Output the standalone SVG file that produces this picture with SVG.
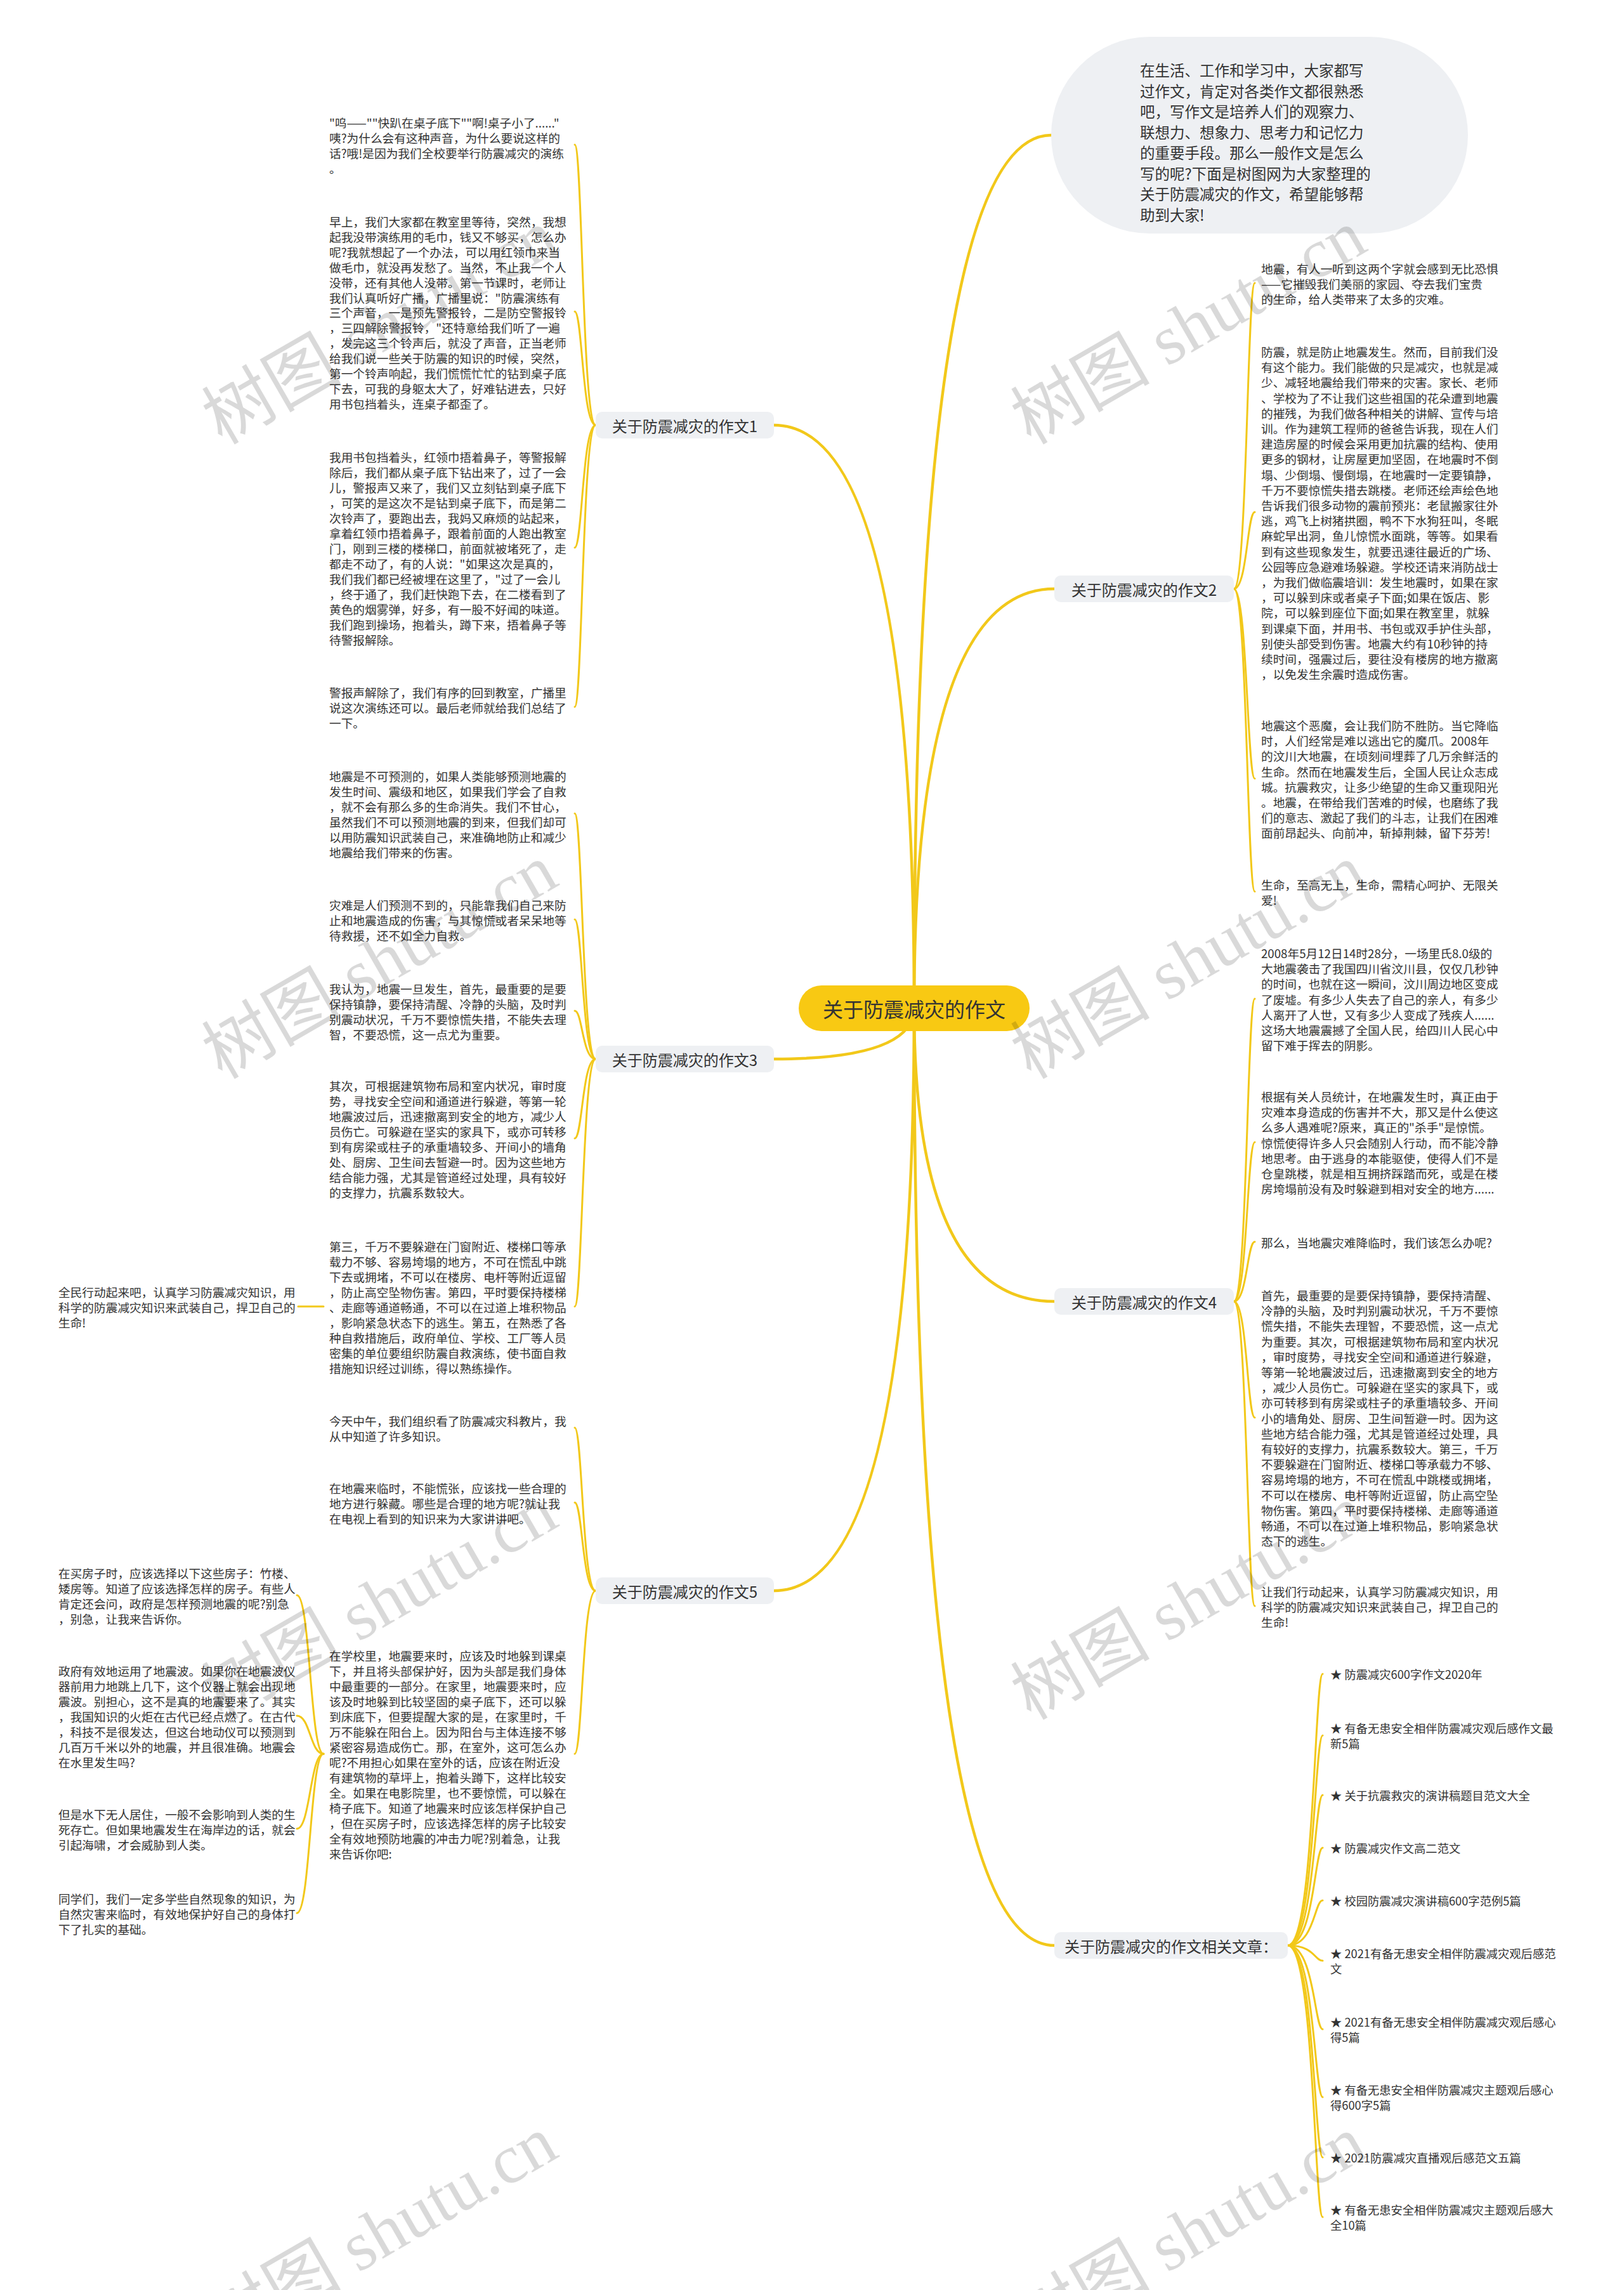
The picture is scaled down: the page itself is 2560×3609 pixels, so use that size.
<svg xmlns="http://www.w3.org/2000/svg" width="2560" height="3609" viewBox="0 0 2560 3609">
<style>
.t{font-family:"Noto Sans CJK SC","Noto Sans",sans-serif;font-size:18.7px;fill:#333;dominant-baseline:central}
.li{font-family:"Noto Sans CJK SC","Noto Sans",sans-serif;font-size:18.3px;fill:#333;dominant-baseline:central}
.bt{font-family:"Noto Sans CJK SC","Noto Sans",sans-serif;font-size:23.5px;fill:#333;dominant-baseline:central}
.nt{font-family:"Noto Sans CJK SC","Noto Sans",sans-serif;font-size:24px;fill:#333;dominant-baseline:central;text-anchor:middle}
.ct{font-family:"Noto Sans CJK SC","Noto Sans",sans-serif;font-size:32px;fill:#333;dominant-baseline:central;text-anchor:middle}
.box{fill:#eef0f3}
.main{fill:none;stroke:#f2c81a;stroke-width:4.5;stroke-linecap:round}
.sub{fill:none;stroke:#f2c81a;stroke-width:3;stroke-linecap:round}
.wm{font-family:"Liberation Serif","Noto Sans CJK SC",serif;font-size:110px;fill:#000;fill-opacity:0.15}
</style>
<rect width="2560" height="3609" fill="#ffffff"/>
<g id="connectors">
<path class="main" d="M1441,1588 Q1441,213 1657,213"/>
<path class="main" d="M1441,1588 Q1441,928 1662,928"/>
<path class="main" d="M1441,1588 Q1441,2051 1662,2051"/>
<path class="main" d="M1441,1588 Q1441,3066 1662,3066"/>
<path class="main" d="M1441,1588 Q1441,670 1220,670"/>
<path class="main" d="M1441,1588 Q1441,1669 1220,1669"/>
<path class="main" d="M1441,1588 Q1441,2507 1220,2507"/>
<path class="sub" d="M939,670 C918,670 918,228 906,228"/>
<path class="sub" d="M939,670 C918,670 918,491 906,491"/>
<path class="sub" d="M939,670 C918,670 918,863 906,863"/>
<path class="sub" d="M939,670 C918,670 918,1114 906,1114"/>
<path class="sub" d="M939,1669 C918,1669 918,1282 906,1282"/>
<path class="sub" d="M939,1669 C918,1669 918,1449 906,1449"/>
<path class="sub" d="M939,1669 C918,1669 918,1593 906,1593"/>
<path class="sub" d="M939,1669 C918,1669 918,1794 906,1794"/>
<path class="sub" d="M939,1669 C918,1669 918,2059 906,2059"/>
<path class="sub" d="M939,2507 C918,2507 918,2250 906,2250"/>
<path class="sub" d="M939,2507 C918,2507 918,2368 906,2368"/>
<path class="sub" d="M939,2507 C918,2507 918,2764 906,2764"/>
<path class="sub" d="M510,2059 L470,2059"/>
<path class="sub" d="M510,2764 C489,2764 489,2514 468,2514"/>
<path class="sub" d="M510,2764 C489,2764 489,2704 468,2704"/>
<path class="sub" d="M510,2764 C489,2764 489,2882 468,2882"/>
<path class="sub" d="M510,2764 C489,2764 489,3015 468,3015"/>
<path class="sub" d="M1945,928 C1966,928 1966,446 1978,446"/>
<path class="sub" d="M1945,928 C1966,928 1966,807 1978,807"/>
<path class="sub" d="M1945,928 C1966,928 1966,1227 1978,1227"/>
<path class="sub" d="M1945,928 C1966,928 1966,1405 1978,1405"/>
<path class="sub" d="M1945,2051 C1966,2051 1966,1574 1978,1574"/>
<path class="sub" d="M1945,2051 C1966,2051 1966,1800 1978,1800"/>
<path class="sub" d="M1945,2051 C1966,2051 1966,1957 1978,1957"/>
<path class="sub" d="M1945,2051 C1966,2051 1966,2234 1978,2234"/>
<path class="sub" d="M1945,2051 C1966,2051 1966,2531 1978,2531"/>
<path class="sub" d="M2030,3066 C2072,3066 2072,2638 2085,2638"/>
<path class="sub" d="M2030,3066 C2072,3066 2072,2735 2085,2735"/>
<path class="sub" d="M2030,3066 C2072,3066 2072,2829 2085,2829"/>
<path class="sub" d="M2030,3066 C2072,3066 2072,2912 2085,2912"/>
<path class="sub" d="M2030,3066 C2072,3066 2072,2995 2085,2995"/>
<path class="sub" d="M2030,3066 C2072,3066 2072,3090 2085,3090"/>
<path class="sub" d="M2030,3066 C2072,3066 2072,3198 2085,3198"/>
<path class="sub" d="M2030,3066 C2072,3066 2072,3305 2085,3305"/>
<path class="sub" d="M2030,3066 C2072,3066 2072,3400 2085,3400"/>
<path class="sub" d="M2030,3066 C2072,3066 2072,3494 2085,3494"/>
</g>
<g id="center">
<rect x="1259" y="1553" width="364" height="72" rx="36" fill="#f8c913"/>
<text class="ct" x="1441" y="1589">关于防震减灾的作文</text>
</g>
<g id="intro">
<rect x="1657" y="58" width="657" height="310" rx="155" class="box"/>
<text class="bt" x="1797" y="110"><tspan x="1797" y="110">在生活、工作和学习中，大家都写</tspan><tspan x="1797" dy="32.5">过作文，肯定对各类作文都很熟悉</tspan><tspan x="1797" dy="32.5">吧，写作文是培养人们的观察力、</tspan><tspan x="1797" dy="32.5">联想力、想象力、思考力和记忆力</tspan><tspan x="1797" dy="32.5">的重要手段。那么一般作文是怎么</tspan><tspan x="1797" dy="32.5">写的呢?下面是树图网为大家整理的</tspan><tspan x="1797" dy="32.5">关于防震减灾的作文，希望能够帮</tspan><tspan x="1797" dy="32.5">助到大家!</tspan></text>
</g>
<g id="node1">
<rect x="939" y="649" width="281" height="42" rx="10" class="box"/>
<text class="nt" x="1079.5" y="670">关于防震减灾的作文1</text>
</g>
<g id="node3">
<rect x="939" y="1648" width="281" height="42" rx="10" class="box"/>
<text class="nt" x="1079.5" y="1669">关于防震减灾的作文3</text>
</g>
<g id="node5">
<rect x="939" y="2486" width="281" height="42" rx="10" class="box"/>
<text class="nt" x="1079.5" y="2507">关于防震减灾的作文5</text>
</g>
<g id="node2">
<rect x="1662" y="907" width="283" height="42" rx="10" class="box"/>
<text class="nt" x="1803.5" y="928">关于防震减灾的作文2</text>
</g>
<g id="node4">
<rect x="1662" y="2030" width="283" height="42" rx="10" class="box"/>
<text class="nt" x="1803.5" y="2051">关于防震减灾的作文4</text>
</g>
<g id="node6">
<rect x="1662" y="3045" width="368" height="42" rx="10" class="box"/>
<text class="nt" x="1846" y="3066">关于防震减灾的作文相关文章：</text>
</g>
<g id="b1a"><text class="t" x="519" y="192"><tspan x="519" y="192">"呜——""快趴在桌子底下""啊!桌子小了......"</tspan><tspan x="519" dy="24">咦?为什么会有这种声音，为什么要说这样的</tspan><tspan x="519" dy="24">话?哦!是因为我们全校要举行防震减灾的演练</tspan><tspan x="519" dy="24">。</tspan></text></g>
<g id="b1b"><text class="t" x="519" y="348"><tspan x="519" y="348">早上，我们大家都在教室里等待，突然，我想</tspan><tspan x="519" dy="23.9">起我没带演练用的毛巾，钱又不够买，怎么办</tspan><tspan x="519" dy="23.9">呢?我就想起了一个办法，可以用红领巾来当</tspan><tspan x="519" dy="23.9">做毛巾，就没再发愁了。当然，不止我一个人</tspan><tspan x="519" dy="23.9">没带，还有其他人没带。第一节课时，老师让</tspan><tspan x="519" dy="23.9">我们认真听好广播，广播里说："防震演练有</tspan><tspan x="519" dy="23.9">三个声音，一是预先警报铃，二是防空警报铃</tspan><tspan x="519" dy="23.9">，三四解除警报铃，"还特意给我们听了一遍</tspan><tspan x="519" dy="23.9">，发完这三个铃声后，就没了声音，正当老师</tspan><tspan x="519" dy="23.9">给我们说一些关于防震的知识的时候，突然，</tspan><tspan x="519" dy="23.9">第一个铃声响起，我们慌慌忙忙的钻到桌子底</tspan><tspan x="519" dy="23.9">下去，可我的身躯太大了，好难钻进去，只好</tspan><tspan x="519" dy="23.9">用书包挡着头，连桌子都歪了。</tspan></text></g>
<g id="b1c"><text class="t" x="519" y="719"><tspan x="519" y="719">我用书包挡着头，红领巾捂着鼻子，等警报解</tspan><tspan x="519" dy="24">除后，我们都从桌子底下钻出来了，过了一会</tspan><tspan x="519" dy="24">儿，警报声又来了，我们又立刻钻到桌子底下</tspan><tspan x="519" dy="24">，可笑的是这次不是钻到桌子底下，而是第二</tspan><tspan x="519" dy="24">次铃声了，要跑出去，我妈又麻烦的站起来，</tspan><tspan x="519" dy="24">拿着红领巾捂着鼻子，跟着前面的人跑出教室</tspan><tspan x="519" dy="24">门，刚到三楼的楼梯口，前面就被堵死了，走</tspan><tspan x="519" dy="24">都走不动了，有的人说："如果这次是真的，</tspan><tspan x="519" dy="24">我们我们都已经被埋在这里了，"过了一会儿</tspan><tspan x="519" dy="24">，终于通了，我们赶快跑下去，在二楼看到了</tspan><tspan x="519" dy="24">黄色的烟雾弹，好多，有一股不好闻的味道。</tspan><tspan x="519" dy="24">我们跑到操场，抱着头，蹲下来，捂着鼻子等</tspan><tspan x="519" dy="24">待警报解除。</tspan></text></g>
<g id="b1d"><text class="t" x="519" y="1090"><tspan x="519" y="1090">警报声解除了，我们有序的回到教室，广播里</tspan><tspan x="519" dy="24">说这次演练还可以。最后老师就给我们总结了</tspan><tspan x="519" dy="24">一下。</tspan></text></g>
<g id="b3a"><text class="t" x="519" y="1222"><tspan x="519" y="1222">地震是不可预测的，如果人类能够预测地震的</tspan><tspan x="519" dy="24">发生时间、震级和地区，如果我们学会了自救</tspan><tspan x="519" dy="24">，就不会有那么多的生命消失。我们不甘心，</tspan><tspan x="519" dy="24">虽然我们不可以预测地震的到来，但我们却可</tspan><tspan x="519" dy="24">以用防震知识武装自己，来准确地防止和减少</tspan><tspan x="519" dy="24">地震给我们带来的伤害。</tspan></text></g>
<g id="b3b"><text class="t" x="519" y="1425"><tspan x="519" y="1425">灾难是人们预测不到的，只能靠我们自己来防</tspan><tspan x="519" dy="24">止和地震造成的伤害，与其惊慌或者呆呆地等</tspan><tspan x="519" dy="24">待救援，还不如全力自救。</tspan></text></g>
<g id="b3c"><text class="t" x="519" y="1557"><tspan x="519" y="1557">我认为，地震一旦发生，首先，最重要的是要</tspan><tspan x="519" dy="24">保持镇静，要保持清醒、冷静的头脑，及时判</tspan><tspan x="519" dy="24">别震动状况，千万不要惊慌失措，不能失去理</tspan><tspan x="519" dy="24">智，不要恐慌，这一点尤为重要。</tspan></text></g>
<g id="b3d"><text class="t" x="519" y="1710"><tspan x="519" y="1710">其次，可根据建筑物布局和室内状况，审时度</tspan><tspan x="519" dy="24">势，寻找安全空间和通道进行躲避，等第一轮</tspan><tspan x="519" dy="24">地震波过后，迅速撤离到安全的地方，减少人</tspan><tspan x="519" dy="24">员伤亡。可躲避在坚实的家具下，或亦可转移</tspan><tspan x="519" dy="24">到有房梁或柱子的承重墙较多、开间小的墙角</tspan><tspan x="519" dy="24">处、厨房、卫生间去暂避一时。因为这些地方</tspan><tspan x="519" dy="24">结合能力强，尤其是管道经过处理，具有较好</tspan><tspan x="519" dy="24">的支撑力，抗震系数较大。</tspan></text></g>
<g id="b3e"><text class="t" x="519" y="1963"><tspan x="519" y="1963">第三，千万不要躲避在门窗附近、楼梯口等承</tspan><tspan x="519" dy="24">载力不够、容易垮塌的地方，不可在慌乱中跳</tspan><tspan x="519" dy="24">下去或拥堵，不可以在楼房、电杆等附近逗留</tspan><tspan x="519" dy="24">，防止高空坠物伤害。第四，平时要保持楼梯</tspan><tspan x="519" dy="24">、走廊等通道畅通，不可以在过道上堆积物品</tspan><tspan x="519" dy="24">，影响紧急状态下的逃生。第五，在熟悉了各</tspan><tspan x="519" dy="24">种自救措施后，政府单位、学校、工厂等人员</tspan><tspan x="519" dy="24">密集的单位要组织防震自救演练，使书面自救</tspan><tspan x="519" dy="24">措施知识经过训练，得以熟练操作。</tspan></text></g>
<g id="b3f"><text class="t" x="92" y="2035"><tspan x="92" y="2035">全民行动起来吧，认真学习防震减灾知识，用</tspan><tspan x="92" dy="24">科学的防震减灾知识来武装自己，捍卫自己的</tspan><tspan x="92" dy="24">生命!</tspan></text></g>
<g id="b5a"><text class="t" x="519" y="2238"><tspan x="519" y="2238">今天中午，我们组织看了防震减灾科教片，我</tspan><tspan x="519" dy="24">从中知道了许多知识。</tspan></text></g>
<g id="b5b"><text class="t" x="519" y="2344"><tspan x="519" y="2344">在地震来临时，不能慌张，应该找一些合理的</tspan><tspan x="519" dy="24">地方进行躲藏。哪些是合理的地方呢?就让我</tspan><tspan x="519" dy="24">在电视上看到的知识来为大家讲讲吧。</tspan></text></g>
<g id="b5c"><text class="t" x="519" y="2608"><tspan x="519" y="2608">在学校里，地震要来时，应该及时地躲到课桌</tspan><tspan x="519" dy="24">下，并且将头部保护好，因为头部是我们身体</tspan><tspan x="519" dy="24">中最重要的一部分。在家里，地震要来时，应</tspan><tspan x="519" dy="24">该及时地躲到比较坚固的桌子底下，还可以躲</tspan><tspan x="519" dy="24">到床底下，但要提醒大家的是，在家里时，千</tspan><tspan x="519" dy="24">万不能躲在阳台上。因为阳台与主体连接不够</tspan><tspan x="519" dy="24">紧密容易造成伤亡。那，在室外，这可怎么办</tspan><tspan x="519" dy="24">呢?不用担心如果在室外的话，应该在附近没</tspan><tspan x="519" dy="24">有建筑物的草坪上，抱着头蹲下，这样比较安</tspan><tspan x="519" dy="24">全。如果在电影院里，也不要惊慌，可以躲在</tspan><tspan x="519" dy="24">椅子底下。知道了地震来时应该怎样保护自己</tspan><tspan x="519" dy="24">，但在买房子时，应该选择怎样的房子比较安</tspan><tspan x="519" dy="24">全有效地预防地震的冲击力呢?别着急，让我</tspan><tspan x="519" dy="24">来告诉你吧:</tspan></text></g>
<g id="b5d"><text class="t" x="92" y="2478"><tspan x="92" y="2478">在买房子时，应该选择以下这些房子：竹楼、</tspan><tspan x="92" dy="24">矮房等。知道了应该选择怎样的房子。有些人</tspan><tspan x="92" dy="24">肯定还会问，政府是怎样预测地震的呢?别急</tspan><tspan x="92" dy="24">，别急，让我来告诉你。</tspan></text></g>
<g id="b5e"><text class="t" x="92" y="2632"><tspan x="92" y="2632">政府有效地运用了地震波。如果你在地震波仪</tspan><tspan x="92" dy="24">器前用力地跳上几下，这个仪器上就会出现地</tspan><tspan x="92" dy="24">震波。别担心，这不是真的地震要来了。其实</tspan><tspan x="92" dy="24">，我国知识的火炬在古代已经点燃了。在古代</tspan><tspan x="92" dy="24">，科技不是很发达，但这台地动仪可以预测到</tspan><tspan x="92" dy="24">几百万千米以外的地震，并且很准确。地震会</tspan><tspan x="92" dy="24">在水里发生吗?</tspan></text></g>
<g id="b5f"><text class="t" x="92" y="2858"><tspan x="92" y="2858">但是水下无人居住，一般不会影响到人类的生</tspan><tspan x="92" dy="24">死存亡。但如果地震发生在海岸边的话，就会</tspan><tspan x="92" dy="24">引起海啸，才会威胁到人类。</tspan></text></g>
<g id="b5g"><text class="t" x="92" y="2991"><tspan x="92" y="2991">同学们，我们一定多学些自然现象的知识，为</tspan><tspan x="92" dy="24">自然灾害来临时，有效地保护好自己的身体打</tspan><tspan x="92" dy="24">下了扎实的基础。</tspan></text></g>
<g id="r1"><text class="t" x="1988" y="422"><tspan x="1988" y="422">地震，有人一听到这两个字就会感到无比恐惧</tspan><tspan x="1988" dy="24.2">——它摧毁我们美丽的家园、夺去我们宝贵</tspan><tspan x="1988" dy="24.2">的生命，给人类带来了太多的灾难。</tspan></text></g>
<g id="r2"><text class="t" x="1988" y="553"><tspan x="1988" y="553">防震，就是防止地震发生。然而，目前我们没</tspan><tspan x="1988" dy="24.2">有这个能力。我们能做的只是减灾，也就是减</tspan><tspan x="1988" dy="24.2">少、减轻地震给我们带来的灾害。家长、老师</tspan><tspan x="1988" dy="24.2">、学校为了不让我们这些祖国的花朵遭到地震</tspan><tspan x="1988" dy="24.2">的摧残，为我们做各种相关的讲解、宣传与培</tspan><tspan x="1988" dy="24.2">训。作为建筑工程师的爸爸告诉我，现在人们</tspan><tspan x="1988" dy="24.2">建造房屋的时候会采用更加抗震的结构、使用</tspan><tspan x="1988" dy="24.2">更多的钢材，让房屋更加坚固，在地震时不倒</tspan><tspan x="1988" dy="24.2">塌、少倒塌、慢倒塌，在地震时一定要镇静，</tspan><tspan x="1988" dy="24.2">千万不要惊慌失措去跳楼。老师还绘声绘色地</tspan><tspan x="1988" dy="24.2">告诉我们很多动物的震前预兆：老鼠搬家往外</tspan><tspan x="1988" dy="24.2">逃，鸡飞上树猪拱圈，鸭不下水狗狂叫，冬眠</tspan><tspan x="1988" dy="24.2">麻蛇早出洞，鱼儿惊慌水面跳，等等。如果看</tspan><tspan x="1988" dy="24.2">到有这些现象发生，就要迅速往最近的广场、</tspan><tspan x="1988" dy="24.2">公园等应急避难场躲避。学校还请来消防战士</tspan><tspan x="1988" dy="24.2">，为我们做临震培训：发生地震时，如果在家</tspan><tspan x="1988" dy="24.2">，可以躲到床或者桌子下面;如果在饭店、影</tspan><tspan x="1988" dy="24.2">院，可以躲到座位下面;如果在教室里，就躲</tspan><tspan x="1988" dy="24.2">到课桌下面，并用书、书包或双手护住头部，</tspan><tspan x="1988" dy="24.2">别使头部受到伤害。地震大约有10秒钟的持</tspan><tspan x="1988" dy="24.2">续时间，强震过后，要往没有楼房的地方撤离</tspan><tspan x="1988" dy="24.2">，以免发生余震时造成伤害。</tspan></text></g>
<g id="r3"><text class="t" x="1988" y="1142"><tspan x="1988" y="1142">地震这个恶魔，会让我们防不胜防。当它降临</tspan><tspan x="1988" dy="24.2">时，人们经常是难以逃出它的魔爪。2008年</tspan><tspan x="1988" dy="24.2">的汶川大地震，在顷刻间埋葬了几万余鲜活的</tspan><tspan x="1988" dy="24.2">生命。然而在地震发生后，全国人民让众志成</tspan><tspan x="1988" dy="24.2">城。抗震救灾，让多少绝望的生命又重现阳光</tspan><tspan x="1988" dy="24.2">。地震，在带给我们苦难的时候，也磨练了我</tspan><tspan x="1988" dy="24.2">们的意志、激起了我们的斗志，让我们在困难</tspan><tspan x="1988" dy="24.2">面前昂起头、向前冲，斩掉荆棘，留下芬芳!</tspan></text></g>
<g id="r4"><text class="t" x="1988" y="1393"><tspan x="1988" y="1393">生命，至高无上，生命，需精心呵护、无限关</tspan><tspan x="1988" dy="24.2">爱!</tspan></text></g>
<g id="r5"><text class="t" x="1988" y="1501"><tspan x="1988" y="1501">2008年5月12日14时28分，一场里氏8.0级的</tspan><tspan x="1988" dy="24.2">大地震袭击了我国四川省汶川县，仅仅几秒钟</tspan><tspan x="1988" dy="24.2">的时间，也就在这一瞬间，汶川周边地区变成</tspan><tspan x="1988" dy="24.2">了废墟。有多少人失去了自己的亲人，有多少</tspan><tspan x="1988" dy="24.2">人离开了人世，又有多少人变成了残疾人......</tspan><tspan x="1988" dy="24.2">这场大地震震撼了全国人民，给四川人民心中</tspan><tspan x="1988" dy="24.2">留下难于挥去的阴影。</tspan></text></g>
<g id="r6"><text class="t" x="1988" y="1727"><tspan x="1988" y="1727">根据有关人员统计，在地震发生时，真正由于</tspan><tspan x="1988" dy="24.2">灾难本身造成的伤害并不大，那又是什么使这</tspan><tspan x="1988" dy="24.2">么多人遇难呢?原来，真正的"杀手"是惊慌。</tspan><tspan x="1988" dy="24.2">惊慌使得许多人只会随别人行动，而不能冷静</tspan><tspan x="1988" dy="24.2">地思考。由于逃身的本能驱使，使得人们不是</tspan><tspan x="1988" dy="24.2">仓皇跳楼，就是相互拥挤踩踏而死，或是在楼</tspan><tspan x="1988" dy="24.2">房垮塌前没有及时躲避到相对安全的地方......</tspan></text></g>
<g id="r7"><text class="t" x="1988" y="1957">那么，当地震灾难降临时，我们该怎么办呢?</text></g>
<g id="r8"><text class="t" x="1988" y="2040"><tspan x="1988" y="2040">首先，最重要的是要保持镇静，要保持清醒、</tspan><tspan x="1988" dy="24.2">冷静的头脑，及时判别震动状况，千万不要惊</tspan><tspan x="1988" dy="24.2">慌失措，不能失去理智，不要恐慌，这一点尤</tspan><tspan x="1988" dy="24.2">为重要。其次，可根据建筑物布局和室内状况</tspan><tspan x="1988" dy="24.2">，审时度势，寻找安全空间和通道进行躲避，</tspan><tspan x="1988" dy="24.2">等第一轮地震波过后，迅速撤离到安全的地方</tspan><tspan x="1988" dy="24.2">，减少人员伤亡。可躲避在坚实的家具下，或</tspan><tspan x="1988" dy="24.2">亦可转移到有房梁或柱子的承重墙较多、开间</tspan><tspan x="1988" dy="24.2">小的墙角处、厨房、卫生间暂避一时。因为这</tspan><tspan x="1988" dy="24.2">些地方结合能力强，尤其是管道经过处理，具</tspan><tspan x="1988" dy="24.2">有较好的支撑力，抗震系数较大。第三，千万</tspan><tspan x="1988" dy="24.2">不要躲避在门窗附近、楼梯口等承载力不够、</tspan><tspan x="1988" dy="24.2">容易垮塌的地方，不可在慌乱中跳楼或拥堵，</tspan><tspan x="1988" dy="24.2">不可以在楼房、电杆等附近逗留，防止高空坠</tspan><tspan x="1988" dy="24.2">物伤害。第四，平时要保持楼梯、走廊等通道</tspan><tspan x="1988" dy="24.2">畅通，不可以在过道上堆积物品，影响紧急状</tspan><tspan x="1988" dy="24.2">态下的逃生。</tspan></text></g>
<g id="r9"><text class="t" x="1988" y="2507"><tspan x="1988" y="2507">让我们行动起来，认真学习防震减灾知识，用</tspan><tspan x="1988" dy="24.2">科学的防震减灾知识来武装自己，捍卫自己的</tspan><tspan x="1988" dy="24.2">生命!</tspan></text></g>
<g id="l1"><text class="li" x="2097" y="2638">★ 防震减灾600字作文2020年</text></g>
<g id="l2"><text class="li" x="2097" y="2723"><tspan x="2097" y="2723">★ 有备无患安全相伴防震减灾观后感作文最</tspan><tspan x="2097" dy="24">新5篇</tspan></text></g>
<g id="l3"><text class="li" x="2097" y="2829">★ 关于抗震救灾的演讲稿题目范文大全</text></g>
<g id="l4"><text class="li" x="2097" y="2912">★ 防震减灾作文高二范文</text></g>
<g id="l5"><text class="li" x="2097" y="2995">★ 校园防震减灾演讲稿600字范例5篇</text></g>
<g id="l6"><text class="li" x="2097" y="3078"><tspan x="2097" y="3078">★ 2021有备无患安全相伴防震减灾观后感范</tspan><tspan x="2097" dy="24">文</tspan></text></g>
<g id="l7"><text class="li" x="2097" y="3186"><tspan x="2097" y="3186">★ 2021有备无患安全相伴防震减灾观后感心</tspan><tspan x="2097" dy="24">得5篇</tspan></text></g>
<g id="l8"><text class="li" x="2097" y="3293"><tspan x="2097" y="3293">★ 有备无患安全相伴防震减灾主题观后感心</tspan><tspan x="2097" dy="24">得600字5篇</tspan></text></g>
<g id="l9"><text class="li" x="2097" y="3400">★ 2021防震减灾直播观后感范文五篇</text></g>
<g id="l10"><text class="li" x="2097" y="3482"><tspan x="2097" y="3482">★ 有备无患安全相伴防震减灾主题观后感大</tspan><tspan x="2097" dy="24">全10篇</tspan></text></g>
<g id="watermarks">
<text class="wm" x="350" y="702" transform="rotate(-30 350 702)">树图 shutu.cn</text>
<text class="wm" x="350" y="1702" transform="rotate(-30 350 1702)">树图 shutu.cn</text>
<text class="wm" x="350" y="2712" transform="rotate(-30 350 2712)">树图 shutu.cn</text>
<text class="wm" x="350" y="3706" transform="rotate(-30 350 3706)">树图 shutu.cn</text>
<text class="wm" x="1625" y="702" transform="rotate(-30 1625 702)">树图 shutu.cn</text>
<text class="wm" x="1625" y="1702" transform="rotate(-30 1625 1702)">树图 shutu.cn</text>
<text class="wm" x="1625" y="2712" transform="rotate(-30 1625 2712)">树图 shutu.cn</text>
<text class="wm" x="1625" y="3706" transform="rotate(-30 1625 3706)">树图 shutu.cn</text>
</g>
</svg>
